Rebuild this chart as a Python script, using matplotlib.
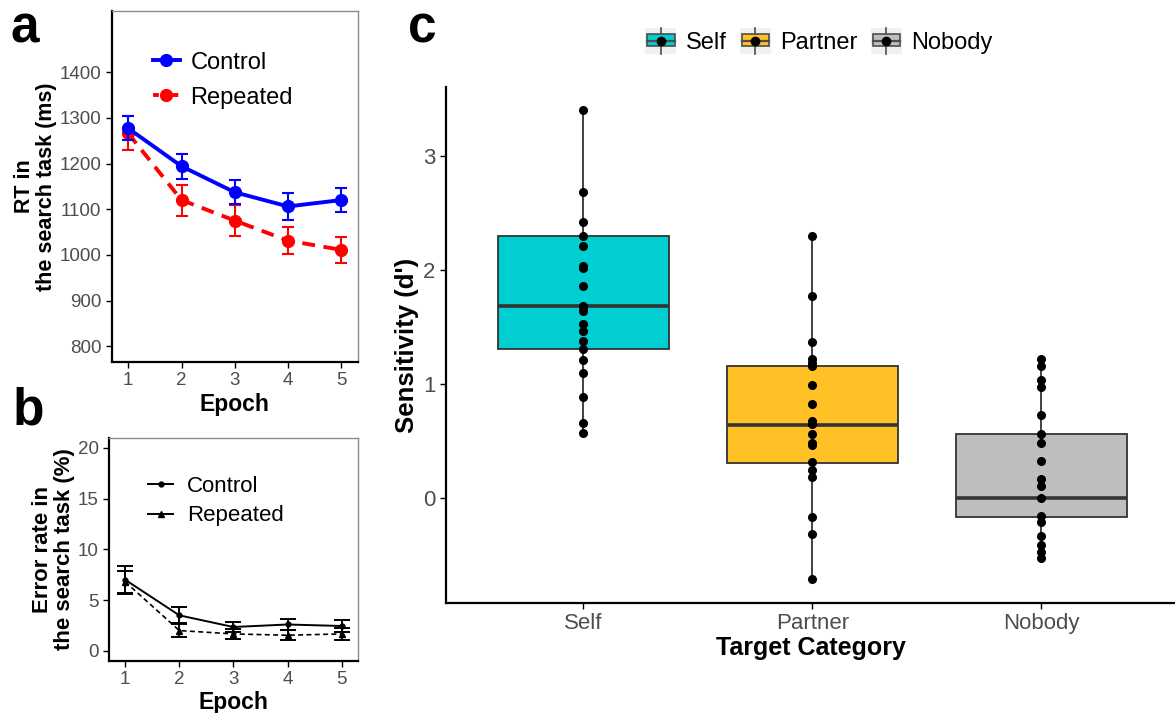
import numpy as np
import matplotlib
matplotlib.use("Agg")
import matplotlib.pyplot as plt
from matplotlib.patches import Rectangle
from matplotlib.lines import Line2D
from matplotlib.legend_handler import HandlerBase

plt.rcParams['font.family'] = ['Liberation Sans', 'DejaVu Sans']

# panel a: RT (ms)
epochs = [1, 2, 3, 4, 5]
rt_control = [1277, 1194, 1137, 1106, 1120]
rt_control_se = [26, 27, 26, 29, 27]
rt_repeated = [1266, 1120, 1075, 1031, 1011]
rt_repeated_se = [37, 34, 34, 30, 29]

# panel b: error rate (%)
err_control = [7.0, 3.5, 2.35, 2.6, 2.45]
err_control_se = [1.35, 0.8, 0.45, 0.5, 0.55]
err_repeated = [6.8, 2.0, 1.67, 1.54, 1.67]
err_repeated_se = [1.1, 0.6, 0.5, 0.5, 0.55]

# panel c: sensitivity d'
categories = ['Self', 'Partner', 'Nobody']
fills = ['#00CED1', '#FFC125', '#BEBEBE']
self_d = [3.40, 2.69, 2.42, 2.30, 2.21, 2.04, 2.02, 1.86, 1.69, 1.68, 1.64,
          1.53, 1.47, 1.38, 1.31, 1.21, 1.10, 0.89, 0.66, 0.57]
partner_d = [2.30, 1.77, 1.375, 1.22, 1.19, 1.16, 0.99, 0.83, 0.68, 0.65,
             0.565, 0.49, 0.47, 0.32, 0.25, 0.19, -0.16, -0.31, -0.71]
nobody_d = [1.22, 1.16, 1.04, 0.98, 0.73, 0.565, 0.49, 0.33, 0.17, 0.11,
            0.0, -0.15, -0.21, -0.33, -0.41, -0.47, -0.52]
box_q1 = [1.31, 0.315, -0.16]
box_med = [1.69, 0.64, 0.0]
box_q3 = [2.30, 1.16, 0.565]

GREY_TXT = '#4D4D4D'

fig = plt.figure(figsize=(11.75, 7.13), dpi=100)


def style_line_axes(ax):
    ax.spines['left'].set_color('black')
    ax.spines['bottom'].set_color('black')
    ax.spines['left'].set_linewidth(1.6)
    ax.spines['bottom'].set_linewidth(1.6)
    for s in ['top', 'right']:
        ax.spines[s].set_color('#8C8C8C')
        ax.spines[s].set_linewidth(1.0)
    ax.tick_params(colors='black', labelcolor=GREY_TXT, labelsize=13.5,
                   length=4, width=1.0)


# ---- a ----
axa = fig.add_axes([0.0951, 0.4927, 0.2094, 0.4919])
axa.errorbar(epochs, rt_repeated, yerr=rt_repeated_se, color='#FF0000', lw=2.8,
             ls=(0, (3.3, 2.2)), marker='o', ms=8.5, capsize=4, elinewidth=1.5,
             capthick=1.5, zorder=2)
axa.errorbar(epochs, rt_control, yerr=rt_control_se, color='#0000FF', lw=2.8,
             marker='o', ms=8.5, capsize=4, elinewidth=1.5, capthick=1.5,
             zorder=3)
axa.set_xlim(0.69, 5.31)
axa.set_ylim(766, 1534)
axa.set_xticks(epochs)
axa.set_yticks([800, 900, 1000, 1100, 1200, 1300, 1400])
style_line_axes(axa)
axa.set_xlabel('Epoch', fontsize=16.5, fontweight='bold', labelpad=3)
axa.set_ylabel('RT in\nthe search task (ms)', fontsize=15.5, fontweight='bold',
               labelpad=2, linespacing=1.05)
leg_a = [Line2D([], [], color='#0000FF', lw=2.8, marker='o', ms=8.5),
         Line2D([], [], color='#FF0000', lw=2.8, ls=(0, (1.5, 1.0)), marker='o', ms=8.5)]
axa.legend(leg_a, ['Control', 'Repeated'], loc='upper left',
           bbox_to_anchor=(0.08, 0.945), frameon=False, fontsize=17,
           handlelength=1.15, handletextpad=0.45, labelspacing=0.55)

# ---- b ----
axb = fig.add_axes([0.0928, 0.0729, 0.2122, 0.3132])
axb.errorbar(epochs, err_repeated, yerr=err_repeated_se, color='black', lw=1.2,
             ls=(0, (3, 2)), marker='^', ms=4, capsize=6, elinewidth=1.4,
             capthick=1.4)
axb.errorbar(epochs, err_control, yerr=err_control_se, color='black', lw=1.4,
             marker='o', ms=3.5, capsize=6, elinewidth=1.4, capthick=1.4)
axb.set_xlim(0.70, 5.31)
axb.set_ylim(-1, 21)
axb.set_xticks(epochs)
axb.set_yticks([0, 5, 10, 15, 20])
style_line_axes(axb)
axb.set_xlabel('Epoch', fontsize=16.5, fontweight='bold', labelpad=2)
axb.set_ylabel('Error rate in\nthe search task (%)', fontsize=16,
               fontweight='bold', labelpad=2, linespacing=1.05)
leg_b = [Line2D([], [], color='black', lw=1.4, marker='o', ms=3.5),
         Line2D([], [], color='black', lw=1.4, marker='^', ms=4)]
axb.legend(leg_b, ['Control', 'Repeated'], loc='upper left',
           bbox_to_anchor=(0.075, 0.92), frameon=False, fontsize=16,
           handlelength=1.15, handletextpad=0.6, labelspacing=0.4)

# ---- c ----
axc = fig.add_axes([0.3796, 0.1543, 0.6204, 0.7237])
groups = [self_d, partner_d, nobody_d]
stats = []
for i, g in enumerate(groups):
    stats.append(dict(med=box_med[i], q1=box_q1[i], q3=box_q3[i],
                      whislo=min(g), whishi=max(g), fliers=[]))
bp = axc.bxp(stats, positions=[1, 2, 3], widths=0.75, patch_artist=True,
             showcaps=False,
             boxprops=dict(edgecolor='#333333', linewidth=1.3),
             medianprops=dict(color='#333333', linewidth=2.6),
             whiskerprops=dict(color='#333333', linewidth=1.3))
for patch, c in zip(bp['boxes'], fills):
    patch.set_facecolor(c)
for i, g in enumerate(groups):
    axc.plot([i + 1] * len(g), g, 'o', color='black', ms=5.5, zorder=4)

axc.set_xlim(0.4, 3.583)
axc.set_ylim(-0.916, 3.606)
axc.set_xticks([1, 2, 3])
axc.set_xticklabels(categories)
axc.set_yticks([0, 1, 2, 3])
for s in ['top', 'right']:
    axc.spines[s].set_visible(False)
for s in ['left', 'bottom']:
    axc.spines[s].set_linewidth(1.6)
axc.tick_params(labelcolor=GREY_TXT, labelsize=16, length=4, width=1.0)
axc.set_xlabel('Target Category', fontsize=18, fontweight='bold', labelpad=1)
axc.set_ylabel("Sensitivity (d')", fontsize=18.5, fontweight='bold', labelpad=3)


class BoxKey(HandlerBase):
    def create_artists(self, legend, orig, xd, yd, w, h, fontsize, trans):
        x0, y0 = -xd, -yd
        bg = Rectangle((x0, y0), w, h, facecolor='#F0F0F0', edgecolor='none',
                       transform=trans)
        box = Rectangle((x0 + 0.06 * w, y0 + 0.28 * h), 0.88 * w, 0.46 * h,
                        facecolor=orig.get_facecolor(), edgecolor='#4D4D4D',
                        lw=1.2, transform=trans)
        cx, cy = x0 + w / 2, y0 + h / 2
        wl = Line2D([cx, cx], [y0, y0 + h], color='#4D4D4D', lw=1.2,
                    transform=trans)
        md = Line2D([x0 + 0.06 * w, x0 + 0.94 * w], [cy, cy], color='#4D4D4D',
                    lw=1.6, transform=trans)
        dot = Line2D([cx], [cy], marker='o', color='black', ms=6,
                     transform=trans)
        return [bg, wl, box, md, dot]


key_handles = [Rectangle((0, 0), 1, 1, facecolor=c) for c in fills]
fig.legend(key_handles, categories, loc='center', bbox_to_anchor=(0.697, 0.943),
           ncol=3, frameon=False, fontsize=17, handlelength=1.32, handleheight=1.32,
           handletextpad=0.4, columnspacing=0.55,
           handler_map={Rectangle: BoxKey()})

# panel letters
fig.text(0.009, 0.94, 'a', fontsize=37, fontweight='bold')
fig.text(0.011, 0.405, 'b', fontsize=37, fontweight='bold')
fig.text(0.347, 0.94, 'c', fontsize=37, fontweight='bold')

fig.savefig('out.png', dpi=100)
